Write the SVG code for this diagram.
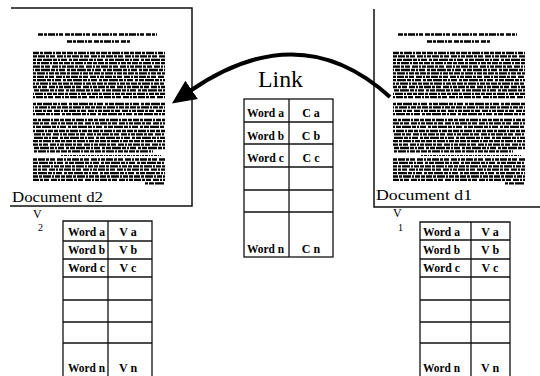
<svg xmlns="http://www.w3.org/2000/svg" width="540" height="376" viewBox="0 0 540 376">
<style>
.frame{fill:none;stroke:#111;stroke-width:1.5}
.cell{fill:none;stroke:#111;stroke-width:1.3}
.t{font-family:"Liberation Serif","Times New Roman",serif;fill:#000}
.w{font-size:12px;font-weight:bold}
.v{font-size:12px;font-weight:bold;text-anchor:middle}
.lbl{font-size:15px}
.tx{stroke:#000;stroke-width:2.3;fill:none}
.a{stroke-dasharray:6 1 3 1 8 1 2 1 5 1 4 1}
.b{stroke-dasharray:4 1 7 1 3 1 5 2 6 1 2 1}
.c{stroke-dasharray:3 1 5 1 9 1 4 1 2 1 6 2}
.ttl{stroke:#000;stroke-width:2.6;fill:none;stroke-dasharray:5 1 3 1 7 1 2 1 4 2}
.sm{stroke:#000;stroke-width:1;fill:none;stroke-dasharray:2 1 3 1 1 1}
</style>
<defs>
<marker id="ah" markerUnits="userSpaceOnUse" markerWidth="26" markerHeight="24" refX="2" refY="12" orient="auto">
<path d="M0,1 L24,12 L0,23 Z" fill="#000"/>
</marker>
<g id="pagetext">
<line class="ttl" x1="5" y1="34.5" x2="124" y2="34.5"/>
<line class="ttl" x1="34" y1="41.5" x2="97" y2="41.5"/>
<line class="tx a" x1="0" y1="53" x2="132" y2="53"/>
<line class="tx b" x1="0" y1="56.4" x2="132" y2="56.4"/>
<line class="tx c" x1="0" y1="59.8" x2="132" y2="59.8"/>
<line class="tx a" x1="0" y1="63.2" x2="132" y2="63.2" stroke-dashoffset="3"/>
<line class="tx b" x1="0" y1="66.6" x2="132" y2="66.6" stroke-dashoffset="5"/>
<line class="tx c" x1="0" y1="70" x2="132" y2="70" stroke-dashoffset="2"/>
<line class="tx a" x1="0" y1="73.4" x2="132" y2="73.4" stroke-dashoffset="7"/>
<line class="tx b" x1="0" y1="76.8" x2="132" y2="76.8" stroke-dashoffset="1"/>
<line class="tx c" x1="0" y1="80.2" x2="132" y2="80.2" stroke-dashoffset="6"/>
<line class="tx a" x1="0" y1="83.6" x2="132" y2="83.6" stroke-dashoffset="4"/>
<line class="tx b" x1="0" y1="87" x2="132" y2="87" stroke-dashoffset="8"/>
<line class="tx c" x1="0" y1="90.4" x2="132" y2="90.4" stroke-dashoffset="3"/>
<line class="tx a" x1="0" y1="93.8" x2="132" y2="93.8" stroke-dashoffset="9"/>
<line class="tx b" x1="0" y1="97.2" x2="132" y2="97.2" stroke-dashoffset="2"/>
<line class="tx c" x1="0" y1="104" x2="132" y2="104"/>
<line class="tx a" x1="0" y1="107.4" x2="132" y2="107.4" stroke-dashoffset="5"/>
<line class="tx b" x1="0" y1="110.8" x2="132" y2="110.8" stroke-dashoffset="3"/>
<line class="tx c" x1="0" y1="114.2" x2="132" y2="114.2" stroke-dashoffset="7"/>
<line class="tx a" x1="0" y1="120" x2="132" y2="120" stroke-dashoffset="2"/>
<line class="tx b" x1="0" y1="123.4" x2="132" y2="123.4" stroke-dashoffset="6"/>
<line class="tx c" x1="0" y1="126.8" x2="132" y2="126.8" stroke-dashoffset="1"/>
<line class="tx a" x1="0" y1="131" x2="132" y2="131" stroke-dashoffset="8"/>
<line class="tx b" x1="0" y1="134.4" x2="132" y2="134.4" stroke-dashoffset="4"/>
<line class="tx c" x1="0" y1="137.8" x2="132" y2="137.8" stroke-dashoffset="9"/>
<line class="tx a" x1="0" y1="141.2" x2="132" y2="141.2" stroke-dashoffset="1"/>
<line class="tx b" x1="0" y1="144.6" x2="132" y2="144.6" stroke-dashoffset="7"/>
<line class="tx c" x1="0" y1="148" x2="132" y2="148" stroke-dashoffset="3"/>
<line class="tx a" x1="0" y1="151.4" x2="120" y2="151.4" stroke-dashoffset="6"/>
<line class="sm" x1="28" y1="155.5" x2="128" y2="155.5"/>
<line class="tx b" x1="0" y1="159.5" x2="132" y2="159.5"/>
<line class="tx c" x1="0" y1="162.9" x2="132" y2="162.9" stroke-dashoffset="4"/>
<line class="tx a" x1="0" y1="166.3" x2="132" y2="166.3" stroke-dashoffset="2"/>
<line class="tx b" x1="0" y1="169.7" x2="132" y2="169.7" stroke-dashoffset="8"/>
<line class="tx c" x1="0" y1="173.1" x2="132" y2="173.1" stroke-dashoffset="5"/>
<line class="tx a" x1="0" y1="176.5" x2="132" y2="176.5" stroke-dashoffset="1"/>
<line class="tx b" x1="0" y1="179.9" x2="132" y2="179.9" stroke-dashoffset="6"/>
<line class="tx c" x1="112" y1="183.3" x2="132" y2="183.3"/>
</g>
</defs>
<rect width="540" height="376" fill="#fff"/>

<g id="doc-d2">
<path class="frame" d="M11,8 H192 V206 H10"/>
<use href="#pagetext" x="33" y="0"/>
<text class="t lbl" x="12" y="202" textLength="91" lengthAdjust="spacingAndGlyphs">Document d2</text>
</g>

<g id="doc-d1">
<path class="frame" d="M374,9 V207 H540"/>
<use href="#pagetext" x="393" y="0"/>
<text class="t lbl" x="376" y="200" textLength="96" lengthAdjust="spacingAndGlyphs">Document d1</text>
</g>

<g id="link-table">
<text class="t" x="258" y="87" font-size="23" textLength="45" lengthAdjust="spacingAndGlyphs">Link</text>
<rect class="cell" x="244" y="99" width="89" height="158"/>
<line class="cell" x1="289" y1="99" x2="289" y2="257"/>
<line class="cell" x1="244" y1="122" x2="333" y2="122"/>
<line class="cell" x1="244" y1="144" x2="333" y2="144"/>
<line class="cell" x1="244" y1="167" x2="333" y2="167"/>
<line class="cell" x1="244" y1="190" x2="333" y2="190"/>
<line class="cell" x1="244" y1="212" x2="333" y2="212"/>
<text class="t w" x="247" y="117" textLength="37" lengthAdjust="spacingAndGlyphs">Word a</text>
<text class="t w" x="247" y="140" textLength="37" lengthAdjust="spacingAndGlyphs">Word b</text>
<text class="t w" x="247" y="162" textLength="37" lengthAdjust="spacingAndGlyphs">Word c</text>
<text class="t w" x="247" y="253" textLength="37" lengthAdjust="spacingAndGlyphs">Word n</text>
<text class="t v" x="311" y="117">C a</text>
<text class="t v" x="311" y="140">C b</text>
<text class="t v" x="311" y="162">C c</text>
<text class="t v" x="311" y="253">C n</text>
</g>

<g id="v2-table">
<text class="t" x="33" y="218" font-size="12">V</text>
<text class="t" x="38" y="231" font-size="10">2</text>
<path class="cell" d="M63,376 V221 H152 V376"/>
<line class="cell" x1="108" y1="221" x2="108" y2="376"/>
<line class="cell" x1="63" y1="241" x2="152" y2="241"/>
<line class="cell" x1="63" y1="259" x2="152" y2="259"/>
<line class="cell" x1="63" y1="277" x2="152" y2="277"/>
<line class="cell" x1="63" y1="300" x2="152" y2="300"/>
<line class="cell" x1="63" y1="322" x2="152" y2="322"/>
<line class="cell" x1="63" y1="343" x2="152" y2="343"/>
<text class="t w" x="68" y="236" textLength="37" lengthAdjust="spacingAndGlyphs">Word a</text>
<text class="t w" x="68" y="254" textLength="37" lengthAdjust="spacingAndGlyphs">Word b</text>
<text class="t w" x="68" y="272" textLength="37" lengthAdjust="spacingAndGlyphs">Word c</text>
<text class="t w" x="68" y="372" textLength="37" lengthAdjust="spacingAndGlyphs">Word n</text>
<text class="t v" x="128" y="236">V a</text>
<text class="t v" x="128" y="254">V b</text>
<text class="t v" x="128" y="272">V c</text>
<text class="t v" x="128" y="372">V n</text>
</g>

<g id="v1-table">
<text class="t" x="393" y="217" font-size="12">V</text>
<text class="t" x="398" y="231" font-size="10">1</text>
<path class="cell" d="M420,376 V222 H510 V376"/>
<line class="cell" x1="471" y1="222" x2="471" y2="376"/>
<line class="cell" x1="420" y1="240" x2="510" y2="240"/>
<line class="cell" x1="420" y1="259" x2="510" y2="259"/>
<line class="cell" x1="420" y1="277" x2="510" y2="277"/>
<line class="cell" x1="420" y1="300" x2="510" y2="300"/>
<line class="cell" x1="420" y1="322" x2="510" y2="322"/>
<line class="cell" x1="420" y1="343" x2="510" y2="343"/>
<text class="t w" x="423" y="236" textLength="37" lengthAdjust="spacingAndGlyphs">Word a</text>
<text class="t w" x="423" y="254" textLength="37" lengthAdjust="spacingAndGlyphs">Word b</text>
<text class="t w" x="423" y="272" textLength="37" lengthAdjust="spacingAndGlyphs">Word c</text>
<text class="t w" x="423" y="372" textLength="37" lengthAdjust="spacingAndGlyphs">Word n</text>
<text class="t v" x="490" y="236">V a</text>
<text class="t v" x="490" y="254">V b</text>
<text class="t v" x="490" y="272">V c</text>
<text class="t v" x="490" y="372">V n</text>
</g>

<g id="connectors">
<path d="M390,97 Q300,15 190,91" fill="none" stroke="#000" stroke-width="4" marker-end="url(#ah)"/>
</g>
</svg>
